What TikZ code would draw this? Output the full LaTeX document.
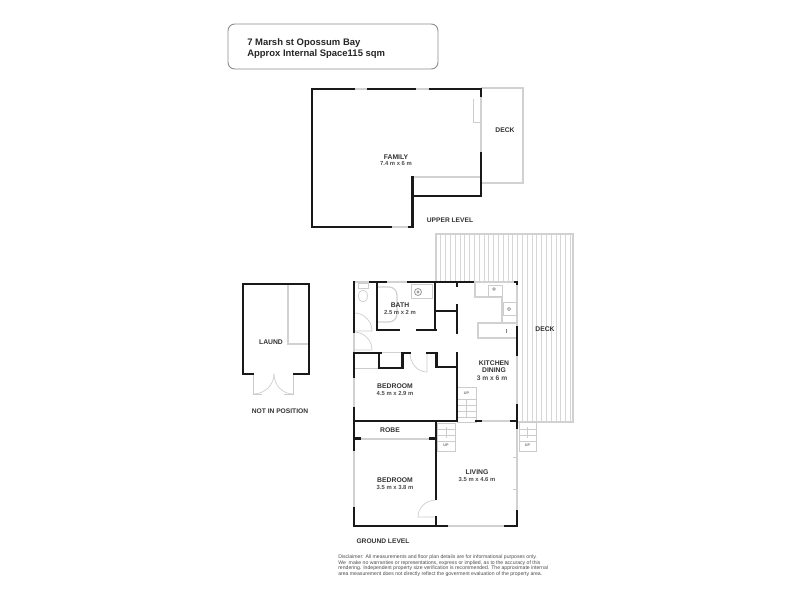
\documentclass[tikz,border=0pt]{standalone}
\usepackage{fontspec}
\setmainfont{Liberation Sans}
\begin{document}
\begin{tikzpicture}[x=0.75pt,y=-0.75pt,
    wall/.style={line width=2.2pt,black!90,line cap=rect},
    thin wall/.style={line width=1.75pt,black!90,line cap=rect},
    light/.style={line width=0.9pt,black!18},
    fine/.style={line width=0.5pt,black!20},
    room/.style={font=\bfseries\fontsize{5.1}{6}\selectfont,text=black!80,inner sep=0pt},
    size/.style={font=\bfseries\fontsize{4.4}{5}\selectfont,text=black!70,inner sep=0pt},
    level/.style={font=\bfseries\fontsize{5}{6}\selectfont,text=black!80,inner sep=0pt},
    up/.style={font=\bfseries\fontsize{2.8}{3}\selectfont,text=black!55,inner sep=0pt}]
    \useasboundingbox (0,0) rectangle (800,600);
    \fill [white] (0,0) rectangle (800,600);

    %title box
    \draw [black!45,line width=0.7pt,rounded corners=5pt] (228,24) rectangle (438,69);
    \node (title) [anchor=west,align=left,inner sep=0pt,text=black!85,font=\bfseries\fontsize{7.1}{8.2}\selectfont] at (247,48.5) {7 Marsh st Opossum Bay\\Approx Internal Space115 sqm};

    %upper level deck
    \draw [light] (481,88) -- (523,88) -- (523,183) -- (481,183);
    \draw [light] (412,177) -- (481,177);
    \draw [light] (481,97) -- (481,153);
    \draw [fine] (473,99) -- (473,122) -- (481,122);
    %upper level windows
    \draw [light] (354,89) -- (368,89);
    \draw [light] (416,89) -- (429,89);
    \draw [light] (392,227) -- (408,227);
    %upper level walls
    \draw [wall] (354,89) -- (312,89) -- (312,227) -- (391,227);
    \draw [wall] (368,89) -- (415,89);
    \draw [wall] (430,89) -- (481,89) -- (481,96);
    \draw [wall] (481,153) -- (481,196) -- (412.5,196);
    \draw [wall] (412.5,177) -- (412.5,227) -- (409,227);

    %ground level deck
    \foreach \i in {0,...,28}
      \draw [fine,black!16] (436+4.8*\i,234) -- (436+4.8*\i,422);
    \draw [light] (436,282) -- (436,234) -- (573,234) -- (573,422) -- (517,422);
    \fill [white] (436.4,282) rectangle (517,422);

    %light parts of the outer walls
    \draw [light] (354,282) -- (354,508);
    \draw [light] (354,282) -- (517,282) -- (517,511);
    \draw [light] (447,526) -- (505,526);
    \draw [light] (481,421) -- (510,421);
    \draw [light] (381,352.5) -- (402,352.5);
    \draw [light] (354,439) -- (436,439);
    \draw [fine] (354,368) -- (379,368);
    \draw [fine] (513,457) -- (517,457);
    \draw [fine] (513,489) -- (517,489);

    %kitchen
    \draw [light] (475,282) -- (475,297) -- (502,297) -- (502,323);
    \draw [light] (516,323) -- (478,323) -- (478,338) -- (516,338);
    \draw [fine] (488,285) rectangle (502,296);
    \draw [fine] (503,302) rectangle (516,315);
    \draw [black!50,line width=0.5pt] (506,329) -- (506,333);
    \draw [black!40,line width=0.6pt] (494,289) circle (1.4);
    \draw [black!40,line width=0.6pt] (509,309) circle (1.6);

    %bathroom
    \draw [fine] (358,283) rectangle (368,288);
    \draw [fine] (363,296) ellipse (4.5 and 6);
    \draw [light,rounded corners=6pt] (378,287) -- (397,287) -- (397,322) -- (378,322);
    \draw [fine] (411,284) rectangle (432,298);
    \draw [black!40,line width=0.6pt] (418,292) circle (3.5);
    \draw [black!40,line width=0.5pt] (418,292) circle (1.2);

    %doors
    \draw [fine] (354,313) arc (-90:0:18) -- (354,331);
    \draw [fine] (354,332) arc (-90:0:18) -- (354,350);
    \draw [fine] (410,353) arc (180:90:17 and 19) -- (427,353);
    \draw [fine] (436,500) arc (-90:-180:18 and 17) -- (436,517);

    %stairs
    \draw [fine] (457,387) rectangle (476,422);
    \foreach \y in {399,405,411,417}
      \draw [fine] (457,\y) -- (476,\y);
    \draw [fine] (466.5,399) -- (466.5,418);
    \draw [fine] (437,423) rectangle (455,451);
    \foreach \y in {429,435,441}
      \draw [fine] (437,\y) -- (455,\y);
    \draw [fine] (446,427) -- (446,438);
    \draw [fine] (519,422) rectangle (536,451);
    \foreach \y in {429,435,441}
      \draw [fine] (519,\y) -- (536,\y);
    \draw [fine] (527.5,427) -- (527.5,438);
    \node (stairup) [up] at (466.5,393) {UP};
    \node (landup) [up] at (446,445.5) {UP};
    \node (deckup) [up] at (527.5,445.5) {UP};

    %ground level walls
    \draw [wall] (354,282) -- (354,332);
    \draw [wall] (370,282) -- (386,282);
    \draw [wall] (408,282) -- (473,282);
    \draw [wall] (515,282) -- (517,282) -- (517,284);
    \draw [thin wall] (377,282) -- (377,330) -- (399,330);
    \draw [thin wall] (417,330) -- (436,330);
    \draw [thin wall] (435,282) -- (435,330);
    \draw [thin wall] (435,311) -- (457,311);
    \draw [thin wall] (457,283) -- (457,286);
    \draw [thin wall] (457,305) -- (457,333);
    \draw [wall] (354,377) -- (354,353) -- (381,353);
    \draw [thin wall] (379,353) -- (379,368) -- (402.5,368) -- (402.5,353) -- (410,353);
    \draw [thin wall] (427,353) -- (436.5,353) -- (436.5,367) -- (457,367);
    \draw [thin wall] (457,353) -- (457,421) -- (354,421);
    \draw [wall] (354,408) -- (354,450);
    \draw [thin wall] (436,421) -- (436,499);
    \draw [wall] (354,508) -- (354,526) -- (447,526);
    \draw [thin wall] (436,517) -- (436,526);
    \draw [thin wall] (355,438.5) -- (360,438.5);
    \draw [thin wall] (430,438.5) -- (435,438.5);
    \draw [wall] (517,327) -- (517,355);
    \draw [wall] (517,405) -- (517,428);
    \draw [wall] (517,511) -- (517,526) -- (505,526);
    \draw [thin wall] (476,421) -- (481,421);
    \draw [thin wall] (511,421) -- (517,421);

    %laundry
    \draw [light] (288,285) -- (288,344) -- (308,344);
    \draw [fine] (253,375) -- (253,394) -- (262,394);
    \draw [fine] (293,375) -- (293,394) -- (284,394);
    \draw [fine] (253,394) arc (90:0:21 and 20);
    \draw [fine] (293,394) arc (90:180:19 and 20);
    \draw [wall] (253,374) -- (243,374) -- (243,284) -- (309,284) -- (309,374) -- (294,374);

    %labels
    \node (family) [room] at (396,157) {FAMILY};
    \node (familysize) [size] at (396,163.5) {7.4 m x 6 m};
    \node (upperdeck) [room] at (505,130) {DECK};
    \node (upperlevel) [level] at (450,220) {UPPER LEVEL};
    \node (laund) [room] at (271,342) {LAUND};
    \node (notpos) [level] at (280,411) {NOT IN POSITION};
    \node (bath) [room] at (400,305) {BATH};
    \node (bathsize) [size] at (400,312) {2.5 m x 2 m};
    \node (lowerdeck) [room] at (545,329) {DECK};
    \node (kitchen) [room] at (494,363) {KITCHEN};
    \node (dining) [room] at (494,370.5) {DINING};
    \node (kitchensize) [size,font=\bfseries\fontsize{5}{6}\selectfont] at (492,378) {3 m x 6 m};
    \node (bedroomone) [room] at (395,386) {BEDROOM};
    \node (bedroomonesize) [size] at (395,393) {4.5 m x 2.9 m};
    \node (robe) [room] at (390,430) {ROBE};
    \node (bedroomtwo) [room] at (395,480) {BEDROOM};
    \node (bedroomtwosize) [size] at (395,487) {3.5 m x 3.8 m};
    \node (living) [room] at (477,472) {LIVING};
    \node (livingsize) [size] at (477,479) {3.5 m x 4.6 m};
    \node (groundlevel) [level] at (383,541) {GROUND LEVEL};

    %disclaimer
    \node (disclaimer) [anchor=north west,align=left,inner sep=0pt,text=black!70,font=\fontsize{3.85}{4.28}\selectfont] at (338,554.5) {Disclaimer: All measurements and floor plan details are for informational purposes only.\\We\ \ make no warranties or representations, express or implied, as to the accuracy of this\\rendering. Independent property size verification is recommended. The approximate internal\\area measurement does not directly reflect the goverment evaluation of the property area.};
  \end{tikzpicture}
\end{document}
